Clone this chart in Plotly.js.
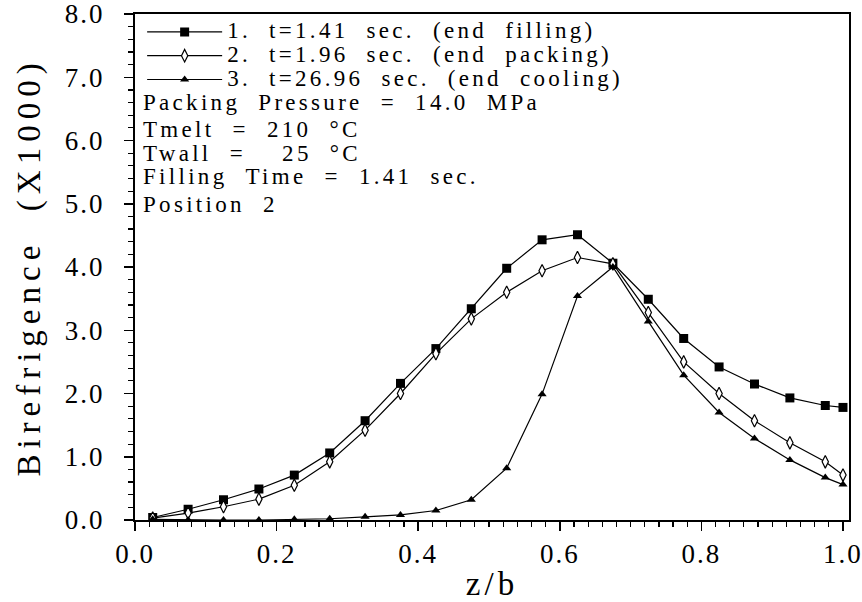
<!DOCTYPE html>
<html><head><meta charset="utf-8">
<script src="https://cdn.plot.ly/plotly-3.0.1.min.js"></script>
<style>
html,body{margin:0;padding:0;background:#fff}
text.legendtext {font-size:23px !important; letter-spacing:3.3px !important}
.annotation-text {letter-spacing:3.3px !important}
.xtick text, .ytick text {letter-spacing:2px}
.xtitle {letter-spacing:4px}
.ytitle {letter-spacing:6px}
</style>
</head><body>
<div id="chart" style="width:862px;height:602px"></div>
<script>
// z/b positions through the thickness
const zb = [0.025,0.075,0.125,0.175,0.225,0.275,0.325,0.375,0.425,0.475,0.525,0.575,0.625,0.675,0.725,0.775,0.825,0.875,0.925,0.975,1.0];
// Birefringence (x1000)
const birefEndFilling = [0.04,0.17,0.32,0.49,0.71,1.06,1.57,2.16,2.71,3.34,3.98,4.43,4.51,4.06,3.49,2.87,2.42,2.15,1.93,1.81,1.78];
const birefEndPacking = [0.03,0.11,0.21,0.33,0.55,0.92,1.42,2.00,2.63,3.18,3.60,3.94,4.15,4.05,3.28,2.50,2.00,1.57,1.22,0.92,0.71];
const birefEndCooling = [0.01,0.00,0.00,0.00,0.01,0.02,0.05,0.08,0.15,0.32,0.82,1.99,3.54,4.00,3.14,2.29,1.70,1.29,0.95,0.67,0.56];
const S = '\u00a0';
const seriesNames = [
  '1.'+S+S+'t=1.41'+S+S+'sec.'+S+S+'(end'+S+S+'filling)',
  '2.'+S+S+'t=1.96'+S+S+'sec.'+S+S+'(end'+S+S+'packing)',
  '3.'+S+S+'t=26.96'+S+S+'sec.'+S+S+'(end'+S+S+'cooling)'
];
const infoLines = [
  'Packing'+S+S+'Pressure'+S+S+'='+S+S+'14.0'+S+S+'MPa',
  'Tmelt'+S+S+'='+S+S+'210'+S+S+'\u00b0C',
  'Twall'+S+S+'='+S+S+S+S+'25'+S+S+'\u00b0C',
  'Filling'+S+S+'Time'+S+S+'='+S+S+'1.41'+S+S+'sec.',
  'Position'+S+S+'2'
];
const xTicks = [0,0.2,0.4,0.6,0.8,1.0];
const yTicks = [0,1,2,3,4,5,6,7,8];

const FONT = 'Liberation Serif';
const line = {color:'#000', width:1.2};
const traces = [
  {x:zb, y:birefEndFilling, name:seriesNames[0], mode:'lines+markers', line:line,
   marker:{symbol:'square', size:9, color:'#000'}},
  {x:zb, y:birefEndPacking, name:seriesNames[1], mode:'lines+markers', line:line,
   marker:{symbol:'diamond-tall', size:9, color:'#fff', line:{color:'#000', width:1.2}}},
  {x:zb, y:birefEndCooling, name:seriesNames[2], mode:'lines+markers', line:line,
   marker:{symbol:'triangle-up', size:8, color:'#000'}}
];

const infoY = [0.825,0.772,0.725,0.678,0.623];
const annotations = infoLines.map((t,i)=>({
  text:t, xref:'paper', yref:'paper', x:0.008, y:infoY[i], xanchor:'left', yanchor:'middle', align:'left',
  showarrow:false, font:{family:FONT, size:23, color:'#000'}
}));

const layout = {
  width:862, height:602,
  margin:{l:135, r:13, t:14, b:82, pad:0},
  paper_bgcolor:'#fff', plot_bgcolor:'#fff',
  font:{family:FONT, color:'#000'},
  showlegend:true,
  legend:{x:0.01, y:0.998, xanchor:'left', yanchor:'top', bgcolor:'rgba(0,0,0,0)',
          borderwidth:0, font:{family:FONT, size:16, color:'#000'}, itemwidth:75, tracegroupgap:0},
  xaxis:{range:[0,1.0085], tickvals:xTicks, ticktext:xTicks.map(v=>v.toFixed(1)),
         ticks:'outside', ticklen:9, tickwidth:1.5, tickcolor:'#000', ticklabeloverflow:'allow',
         minor:{dtick:0.02, tick0:0, ticks:'outside', ticklen:5, tickwidth:1.2, tickcolor:'#000', showgrid:false},
         showline:true, linewidth:2, linecolor:'#000', mirror:true,
         showgrid:false, zeroline:false,
         tickfont:{family:FONT, size:27, color:'#000'},
         title:{text:'z/b', font:{family:FONT, size:33, color:'#000'}, standoff:4}},
  yaxis:{range:[0,8.0001], tickvals:yTicks, ticktext:yTicks.map(v=>v.toFixed(1)),
         ticks:'outside', ticklen:9, tickwidth:1.5, tickcolor:'#000', ticklabeloverflow:'allow',
         minor:{dtick:0.2, tick0:0, ticks:'outside', ticklen:5, tickwidth:1.2, tickcolor:'#000', showgrid:false},
         showline:true, linewidth:2, linecolor:'#000', mirror:true,
         showgrid:false, zeroline:false,
         tickfont:{family:FONT, size:27, color:'#000'}, ticklabelstandoff:14,
         title:{text:'Birefrigence'+S+S+'(X1000)', font:{family:FONT, size:33, color:'#000'}, standoff:14}},
  annotations:annotations
};

Plotly.newPlot('chart', traces, layout, {staticPlot:true, displayModeBar:false});
</script>
</body></html>
